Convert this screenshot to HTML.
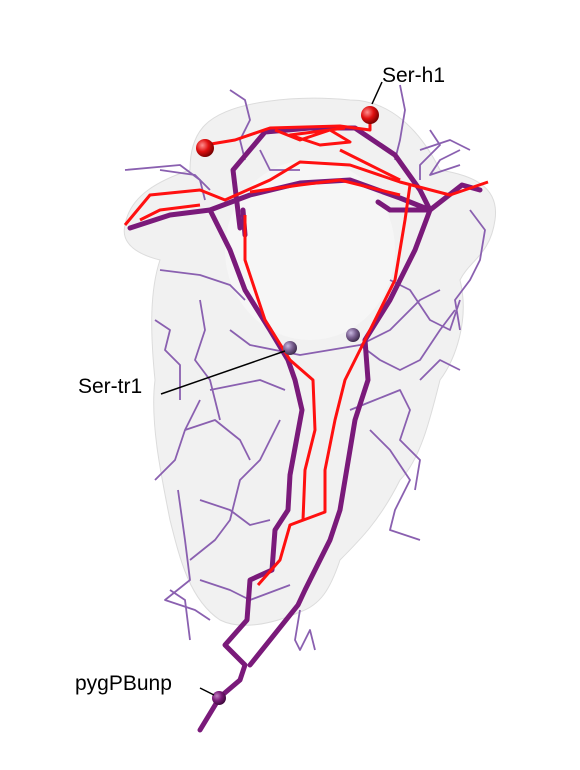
<!DOCTYPE html>
<html><head><meta charset="utf-8"><style>
html,body{margin:0;padding:0;background:#fff;width:580px;height:770px;overflow:hidden}
svg{display:block}
text{font-family:"Liberation Sans",sans-serif;font-size:21px;fill:#000}
</style></head><body>
<svg width="580" height="770" viewBox="0 0 580 770">
<defs>
<radialGradient id="gr" cx="0.35" cy="0.35" r="0.7"><stop offset="0" stop-color="#ff9090"/><stop offset="0.5" stop-color="#e01010"/><stop offset="1" stop-color="#700000"/></radialGradient>
<radialGradient id="gp" cx="0.35" cy="0.35" r="0.7"><stop offset="0" stop-color="#c8b8e0"/><stop offset="0.5" stop-color="#7a6090"/><stop offset="1" stop-color="#3a2848"/></radialGradient>
<radialGradient id="gm" cx="0.35" cy="0.35" r="0.7"><stop offset="0" stop-color="#c080c0"/><stop offset="0.5" stop-color="#7a1a78"/><stop offset="1" stop-color="#3a0838"/></radialGradient>
</defs>
<path fill="#ededed" fill-opacity="0.8" stroke="#dcdcdc" stroke-width="1"
 d="M205,125 C230,100 300,95 350,100 C390,100 420,130 440,170 C470,175 500,185 495,220 C490,255 470,260 460,280 C470,320 455,360 440,380 C430,420 420,460 400,480 C380,520 360,540 340,560 C330,590 320,605 300,612 C270,625 240,630 220,620 C190,600 180,560 170,520 C160,470 150,420 155,380 C150,330 150,290 160,260 C140,255 120,245 125,225 C130,195 160,180 190,170 C190,150 195,135 205,125 Z"/>
<ellipse cx="310" cy="250" rx="85" ry="90" fill="#f8f8f8" opacity="0.8"/>
<g fill="none" stroke="#8a60b0" stroke-width="1.8" stroke-linejoin="round">
<path d="M230,90 L245,100 L250,120 L240,140 L245,160"/>
<path d="M160,170 L195,175 L210,190"/>
<path d="M125,170 L180,165 L200,180 L205,200"/>
<path d="M400,85 L405,110 L400,140 L395,160"/>
<path d="M430,130 L440,145 L420,165 L420,180"/>
<path d="M460,150 L440,160 L430,175 L460,165"/>
<path d="M470,210 L485,230 L480,260 L470,280 L455,300 L460,330"/>
<path d="M160,270 L200,275 L230,285 L245,300"/>
<path d="M155,320 L170,330 L165,350 L180,365 L180,400"/>
<path d="M200,300 L205,330 L195,360 L210,380 L220,420"/>
<path d="M230,330 L250,345 L275,350 L300,355 L330,350 L360,345 L390,330 L420,300 L440,290"/>
<path d="M360,345 L380,360 L400,370 L420,360 L440,330 L455,310"/>
<path d="M390,280 L410,290 L430,320 L450,330 L460,300"/>
<path d="M210,390 L260,380 L285,390"/>
<path d="M185,430 L215,420 L240,440 L250,460"/>
<path d="M155,480 L175,460 L185,430 L200,400"/>
<path d="M280,420 L260,460 L240,480 L230,520 L215,540 L190,560"/>
<path d="M200,500 L230,510 L250,525 L270,520"/>
<path d="M178,490 L185,540 L190,580 L165,600 L195,610 L210,620"/>
<path d="M200,580 L230,590 L250,600 L290,585"/>
<path d="M350,410 L375,400 L400,390 L410,410 L400,440 L420,460 L415,490"/>
<path d="M370,430 L390,450 L410,480 L395,510 L390,530 L420,540"/>
<path d="M420,380 L440,360 L460,370"/>
<path d="M300,610 L295,640 L300,650 L310,630 L315,650"/>
<path d="M170,590 L185,600 L190,640"/>
<path d="M260,150 L270,170 L300,170"/>
<path d="M420,150 L450,140 L470,150"/>
</g>
<g fill="none" stroke="#7a1a7a" stroke-width="5" stroke-linejoin="round" stroke-linecap="round">
<path d="M130,228 L170,215 L210,210 L250,195 L300,183 L350,180 L400,198 L430,210 L462,185 L480,190"/>
<path d="M210,210 L230,250 L245,290 L270,330 L288,360 L295,380 L302,410 L290,475 L288,510 L275,530 L272,570 L250,580 L247,620 L225,645 L245,665 L240,680 L220,697 L200,730"/>
<path d="M240,228 L233,170 L265,132 L310,128 L355,128 L395,155 L420,190 L430,210 L415,250 L390,300 L365,340 L368,380 L355,420 L345,480 L340,510 L330,540 L305,590 L298,605 L250,665"/>
<path d="M378,202 L390,210 L430,210"/>
<path d="M243,210 L245,235"/>
</g>
<g fill="none" stroke="#ff1010" stroke-width="3" stroke-linejoin="round">
<path d="M125,225 L150,195 L200,190 L225,200 L270,180 L300,162 L350,165 L400,182 L450,195 L488,182"/>
<path d="M140,220 L160,210 L200,205"/>
<path d="M250,192 L300,185 L340,180 L400,195"/>
<path d="M205,145 L235,140 L270,128 L340,126 L370,130 L370,115"/>
<path d="M275,130 L300,140 L330,130 L350,142 L320,145 L290,135 L345,128"/>
<path d="M245,215 L245,260 L265,320 L290,360 L313,380 L315,430 L305,470 L303,520 L290,525 L325,512 L325,470 L335,420 L345,380 L370,330 L395,280 L405,220 L410,185"/>
<path d="M290,525 L280,560 L258,585"/>
<path d="M340,150 L360,160 L400,180"/>
</g>
<circle cx="370" cy="115" r="9" fill="url(#gr)"/>
<circle cx="205" cy="148" r="9" fill="url(#gr)"/>
<circle cx="290" cy="348" r="7" fill="url(#gp)"/>
<circle cx="353" cy="335" r="7" fill="url(#gp)"/>
<circle cx="219" cy="698" r="7" fill="url(#gm)"/>
<line x1="372" y1="104" x2="382" y2="82" stroke="#000" stroke-width="1.5"/>
<text x="382" y="82">Ser-h1</text>
<line x1="161" y1="394" x2="285" y2="351" stroke="#000" stroke-width="1.5"/>
<text x="78" y="393">Ser-tr1</text>
<line x1="200" y1="688" x2="214" y2="695" stroke="#000" stroke-width="1.5"/>
<text x="75" y="690">pygPBunp</text>
</svg>
</body></html>
